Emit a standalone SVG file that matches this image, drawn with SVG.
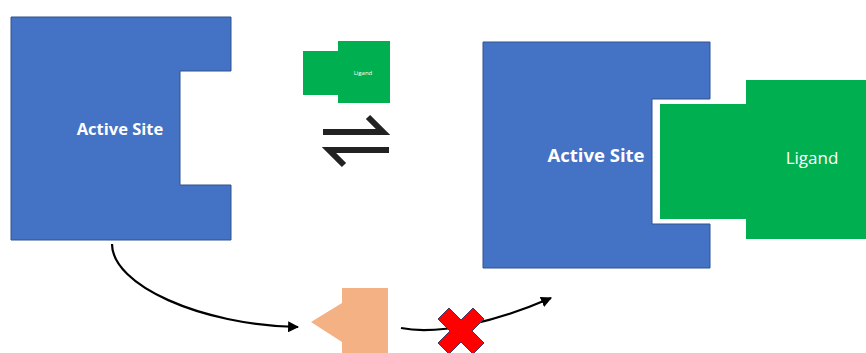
<svg xmlns="http://www.w3.org/2000/svg" width="866" height="353" viewBox="0 0 866 353">
<style>
.blue{fill:#4472C4;stroke:#2F528F;stroke-width:1}
.green{fill:#00B050}
.lbl{fill:#fff;font-family:"Open Sans","Liberation Sans",sans-serif}
.conn{fill:none;stroke:#000;stroke-width:2.2}
.eq{fill:none;stroke:#222;stroke-width:6;stroke-linejoin:miter}
</style>
<defs>
<marker id="ah" viewBox="0 0 10 10" refX="9" refY="5" markerWidth="5" markerHeight="5" orient="auto" markerUnits="strokeWidth">
<path d="M0,0 L10,5 L0,10 z" fill="#000"/>
</marker>
</defs>
<rect width="866" height="353" fill="#fff"/>
<g id="enzyme-left">
<path class="blue" d="M11,17 H231 V71 H180 V185 H231 V240 H11 Z"/>
<text class="lbl" x="120" y="135" font-size="16.5" font-weight="bold" text-anchor="middle">Active Site</text>
</g>
<g id="ligand-small">
<path class="green" d="M338,41 H390 V103 H338 V95 H303 V51 H338 Z"/>
<text class="lbl" x="363" y="75" font-size="6" text-anchor="middle">Ligand</text>
</g>
<g id="equilibrium">
<path class="eq" d="M323,132 H383 L368,117"/>
<path class="eq" d="M389,150 H329 L344,165"/>
</g>
<g id="complex">
<path class="blue" d="M483,42 H710 V99 H652 V224 H710 V268 H483 Z"/>
<path class="green" d="M746,80 H866 V239 H746 V219 H660 V104 H746 Z"/>
<text class="lbl" x="596" y="162" font-size="18.5" font-weight="bold" text-anchor="middle">Active Site</text>
<text class="lbl" x="812" y="164" font-size="17" text-anchor="middle">Ligand</text>
</g>
<g id="inhibitor">
<path fill="#F4B183" d="M342,288 H388 V353 H342 V342 L311,322 L342,303 Z"/>
</g>
<g id="connectors">
<path class="conn" d="M112,244 C112,285 200,325 298,327" marker-end="url(#ah)"/>
<path class="conn" d="M401,328 C440,336 500,320 551,298" marker-end="url(#ah)"/>
</g>
<g id="blocked">
<polygon transform="translate(461,331)" fill="#FF0000" stroke="#3B3B6B" stroke-width="1" points="-23,-12 -12,-23 0,-11 12,-23 23,-12 11,0 23,12 12,23 0,11 -12,23 -23,12 -11,0"/>
</g>
</svg>
